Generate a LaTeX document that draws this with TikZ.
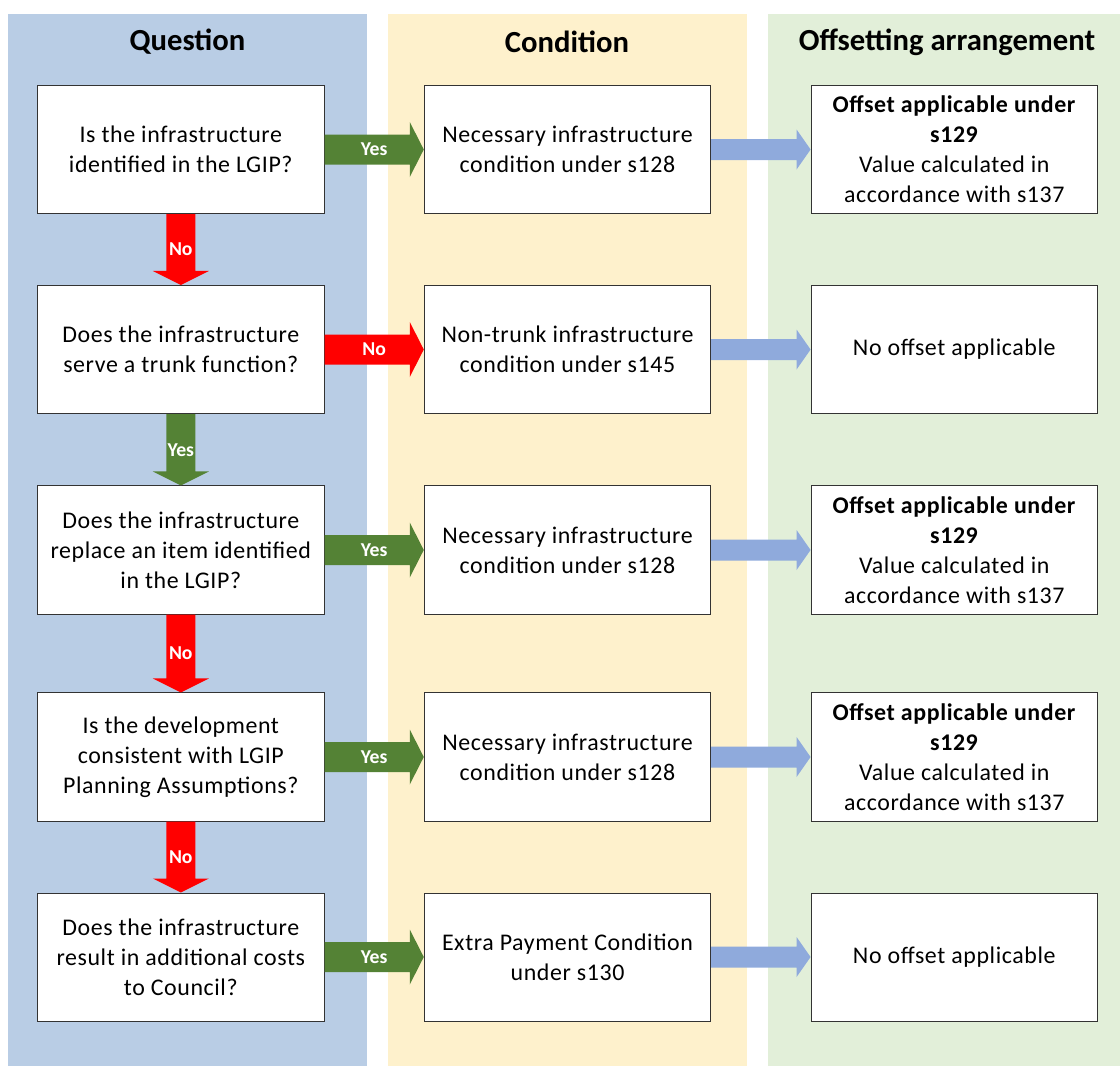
\documentclass[tikz,border=0pt]{standalone}
\usepackage{fontspec}
\setmainfont{Carlito}
\newfontfamily\cellfont{Carlito}[LetterSpace=2.5]
\usetikzlibrary{calc}
\definecolor{qback}{HTML}{B9CDE5}
\definecolor{cback}{HTML}{FEF1CC}
\definecolor{oback}{HTML}{E2EFD9}
\definecolor{yesgreen}{HTML}{548235}
\definecolor{nored}{HTML}{FF0000}
\definecolor{goblue}{HTML}{8FAADC}

\begin{document}
\begin{tikzpicture}[x=0.025cm,y=-0.025cm,
  cell/.style={draw=black!80, line width=0.7pt, fill=white, minimum width=7.16cm,
    minimum height=3.2cm, align=center, inner sep=0pt, font=\cellfont\fontsize{17}{21.3}\selectfont},
  header/.style={font=\fontsize{21.8}{26}\selectfont\bfseries},
  arrowlabel/.style={text=white, font=\fontsize{14}{16}\selectfont\bfseries}]
\useasboundingbox (0,0) rectangle (1120,1066);
\def\harrow#1#2#3#4#5#6{% from, to, colour, shaft half, head half, label
  \fill[#3] ($(#1.east)+(0,-#4)$) -- ($(#2.west)+(-14,-#4)$) -- ($(#2.west)+(-14,-#5)$)
    -- (#2.west) -- ($(#2.west)+(-14,#5)$) -- ($(#2.west)+(-14,#4)$)
    -- ($(#1.east)+(0,#4)$) -- cycle;
  \path (#1.east) -- node[arrowlabel] {#6} (#2.west);}
\def\varrow#1#2#3#4{% from, to, colour, label
  \fill[#3] ($(#1.south)+(-14.5,0)$) -- ($(#2.north)+(-14.5,-14)$) -- ($(#2.north)+(-28,-14)$)
    -- (#2.north) -- ($(#2.north)+(28,-14)$) -- ($(#2.north)+(14.5,-14)$)
    -- ($(#1.south)+(14.5,0)$) -- cycle;
  \path (#1.south) -- node[arrowlabel] {#4} (#2.north);}

% column backgrounds
\fill[qback] (8,14) rectangle (367,1066);
\fill[cback] (388,14) rectangle (747,1066);
\fill[oback] (768,14) rectangle (1120,1066);

\node[header] (hq) at (187.5,42) {Question};
\node[header] (hc) at (567,42) {Condition};
\node[header] (ho) at (947,42) {Offsetting arrangement};

% questions
\node[cell] (q1) at (180.8,149.5) {Is the infrastructure\\identified in the LGIP?};
\node[cell] (q2) at (180.8,349.5) {Does the infrastructure\\serve a trunk function?};
\node[cell] (q3) at (180.8,550) {Does the infrastructure\\replace an item identified\\in the LGIP?};
\node[cell] (q4) at (180.8,757) {Is the development\\consistent with LGIP\\Planning Assumptions?};
\node[cell] (q5) at (180.8,957) {Does the infrastructure\\result in additional costs\\to Council?};

% conditions
\node[cell] (c1) at (567.5,149.5) {Necessary infrastructure\\condition under s128};
\node[cell] (c2) at (567.5,349.5) {Non-trunk infrastructure\\condition under s145};
\node[cell] (c3) at (567.5,550) {Necessary infrastructure\\condition under s128};
\node[cell] (c4) at (567.5,757) {Necessary infrastructure\\condition under s128};
\node[cell] (c5) at (567.5,957) {Extra Payment Condition\\under s130};

% offsets
\node[cell] (o1) at (954.3,149.5) {\textbf{Offset applicable under}\\\textbf{s129}\\Value calculated in\\accordance with s137};
\node[cell] (o2) at (954.3,349.5) {No offset applicable};
\node[cell] (o3) at (954.3,550) {\textbf{Offset applicable under}\\\textbf{s129}\\Value calculated in\\accordance with s137};
\node[cell] (o4) at (954.3,757) {\textbf{Offset applicable under}\\\textbf{s129}\\Value calculated in\\accordance with s137};
\node[cell] (o5) at (954.3,957) {No offset applicable};

% question -> condition
\harrow{q1}{c1}{yesgreen}{15}{27.5}{Yes}
\harrow{q2}{c2}{nored}{15}{27.5}{No}
\harrow{q3}{c3}{yesgreen}{15}{27.5}{Yes}
\harrow{q4}{c4}{yesgreen}{15}{27.5}{Yes}
\harrow{q5}{c5}{yesgreen}{15}{27.5}{Yes}

% question -> question
\varrow{q1}{q2}{nored}{No}
\varrow{q2}{q3}{yesgreen}{Yes}
\varrow{q3}{q4}{nored}{No}
\varrow{q4}{q5}{nored}{No}

% condition -> offset
\harrow{c1}{o1}{goblue}{10.5}{20}{}
\harrow{c2}{o2}{goblue}{10.5}{20}{}
\harrow{c3}{o3}{goblue}{10.5}{20}{}
\harrow{c4}{o4}{goblue}{10.5}{20}{}
\harrow{c5}{o5}{goblue}{10.5}{20}{}
\end{tikzpicture}
\end{document}
